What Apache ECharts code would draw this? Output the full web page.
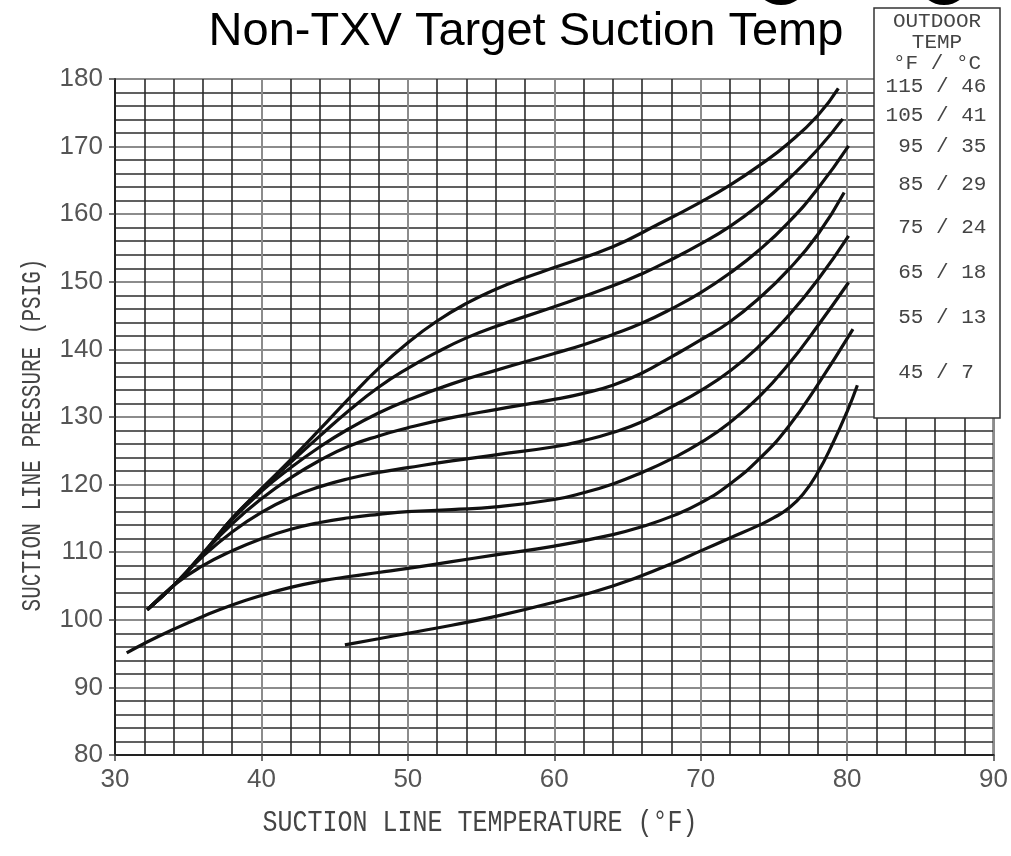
<!DOCTYPE html>
<html>
<head>
<meta charset="utf-8">
<title>Non-TXV Target Suction Temp</title>
<script src="https://cdn.jsdelivr.net/npm/echarts@6/dist/echarts.min.js"></script>
<style>
  html, body { margin: 0; padding: 0; background: #fff; }
  #chart { width: 1011px; height: 856px; }
</style>
</head>
<body>
<div id="chart"></div>
<script>
  // outdoor temp, °F / °C  (top curve first)
  const outdoorLabels = ['115 / 46', '105 / 41', ' 95 / 35', ' 85 / 29', ' 75 / 24', ' 65 / 18', ' 55 / 13', ' 45 / 7 '];

  // each curve: [suction line temp °F, suction line pressure psig]
  const c115 = [[32.2, 101.5], [34.2, 105.5], [36.2, 110.3], [38, 115], [40, 119.4], [42, 123.7], [44, 128.2], [46, 132.8], [48, 137.2], [50, 141], [52, 144.2], [54, 146.8], [56, 148.9], [58, 150.6], [60, 152.1], [64, 155.2], [67, 158.4], [70, 161.8], [72, 164.3], [74, 167.2], [76, 170.5], [78, 174.6], [79.4, 178.6]];
  const c105 = [[32.2, 101.5], [34.2, 105.5], [36.2, 110.3], [38, 115], [40, 119.3], [42, 123.3], [44, 127.2], [46, 131], [48, 134.4], [50, 137.2], [52, 139.6], [54, 141.7], [56, 143.4], [60, 146.3], [64, 149.4], [66, 151.2], [68, 153.3], [70, 155.6], [72, 158.2], [74, 161.4], [76, 165.2], [78, 169.6], [79.7, 174.1]];
  const c95 = [[32.2, 101.5], [34.2, 105.5], [36.2, 110.2], [38, 114.8], [40, 119], [42, 122.5], [44, 125.6], [46, 128.3], [48, 130.6], [50, 132.5], [53, 134.9], [56, 136.9], [60, 139.4], [62, 140.7], [64, 142.2], [66, 143.9], [68, 146], [70, 148.4], [72, 151.3], [74, 154.7], [76, 158.8], [78, 163.8], [80.1, 170.1]];
  const c85 = [[32.2, 101.5], [34.2, 105.5], [36, 109.8], [38, 114.2], [40, 117.9], [42, 121], [44, 123.6], [46, 125.7], [48, 127.2], [50, 128.4], [53, 129.9], [56, 131.1], [60, 132.6], [62, 133.5], [64, 134.7], [66, 136.5], [68, 138.9], [70, 141.4], [72, 144.1], [74, 147.6], [76, 151.8], [78, 157], [79.8, 163.2]];
  const c75 = [[32.2, 101.5], [34.2, 105.5], [36, 109.4], [38, 113], [40, 115.9], [42, 118.1], [44, 119.7], [46, 120.9], [48, 121.8], [50, 122.5], [53, 123.5], [56, 124.4], [60, 125.6], [62, 126.5], [64, 127.7], [66, 129.3], [68, 131.5], [70, 133.9], [72, 136.8], [74, 140.5], [76, 145], [78, 150.3], [80.1, 156.8]];
  const c65 = [[32.2, 101.5], [34.2, 105.4], [36, 108], [38, 110.2], [40, 112], [42, 113.4], [44, 114.4], [46, 115.1], [48, 115.6], [50, 116], [53, 116.3], [56, 116.7], [60, 117.8], [62, 118.8], [64, 120.1], [66, 121.8], [68, 123.8], [70, 126.2], [72, 129.2], [74, 133], [76, 137.8], [78, 143.5], [80.1, 149.9]];
  const c55 = [[30.8, 95.1], [32, 96.5], [34, 98.6], [36, 100.5], [38, 102.2], [40, 103.6], [42, 104.8], [44, 105.7], [46, 106.4], [48, 107], [50, 107.6], [53, 108.6], [56, 109.6], [60, 110.9], [64, 112.6], [66, 113.8], [68, 115.3], [70, 117.3], [72, 120.1], [74, 123.8], [76, 128.6], [78, 134.8], [80.4, 143]];
  const c45 = [[45.7, 96.3], [48, 97.2], [50, 98], [53, 99.2], [56, 100.5], [60, 102.6], [64, 105], [68, 108.3], [70, 110.2], [72, 112.1], [74, 114], [75, 115.1], [76, 116.5], [77, 118.6], [78, 121.8], [79, 126], [80, 130.8], [80.7, 134.7]];

  const curves = [c115, c105, c95, c85, c75, c65, c55, c45];

  // layout of the "OUTDOOR TEMP" box (pixel rows)
  const boxRowsY = [86, 115, 146, 184.5, 227.5, 272.5, 317.5, 372.5];

  const chart = echarts.init(document.getElementById('chart'));

  const series = curves.map(function (pts, i) {
    return {
      name: outdoorLabels[i],
      type: 'line',
      data: pts,
      smooth: 0.5,
      showSymbol: false,
      silent: true,
      z: 3,
      lineStyle: { color: '#111', width: 3.2 }
    };
  });

  const monoFont = '"Liberation Mono", "DejaVu Sans Mono", monospace';
  const boxText = { fontFamily: monoFont, fontSize: 21, fill: '#444', textAlign: 'center', textVerticalAlign: 'middle' };

  const graphics = [
    // cut-off letters of a bigger heading above
    { type: 'ellipse', shape: { cx: 781, cy: -14, rx: 24, ry: 19 }, style: { fill: '#000' } },
    { type: 'ellipse', shape: { cx: 944, cy: -14, rx: 23, ry: 19 }, style: { fill: '#000' } },
    {
      type: 'text', x: 526, y: 32,
      style: { text: 'Non-TXV Target Suction Temp', fontFamily: '"Liberation Sans", Arial, sans-serif', fontSize: 47, fill: '#000', textAlign: 'center', textVerticalAlign: 'middle' }
    },
    {
      type: 'text', x: 33, y: 435, rotation: Math.PI / 2, scaleY: 1.3,
      style: { text: 'SUCTION LINE PRESSURE (PSIG)', fontFamily: monoFont, fontSize: 21, fill: '#444', textAlign: 'center', textVerticalAlign: 'middle' }
    },
    {
      type: 'text', x: 480, y: 823, scaleY: 1.2,
      style: { text: 'SUCTION LINE TEMPERATURE (°F)', fontFamily: monoFont, fontSize: 25, fill: '#444', textAlign: 'center', textVerticalAlign: 'middle' }
    },
    // legend box
    { type: 'rect', z: 100, shape: { x: 874, y: 8, width: 126, height: 410 }, style: { fill: '#fff', stroke: '#333', lineWidth: 1.5 } },
    { type: 'text', z: 101, x: 937, y: 21.5, style: Object.assign({}, boxText, { text: 'OUTDOOR' }) },
    { type: 'text', z: 101, x: 937, y: 42.5, style: Object.assign({}, boxText, { text: 'TEMP' }) },
    { type: 'text', z: 101, x: 937, y: 63, style: Object.assign({}, boxText, { text: '°F / °C' }) }
  ];
  outdoorLabels.forEach(function (lab, i) {
    graphics.push({ type: 'text', z: 101, x: 936, y: boxRowsY[i], style: Object.assign({}, boxText, { text: lab }) });
  });

  const option = {
    backgroundColor: '#fff',
    animation: false,
    grid: { left: 115, right: 11, top: 79, bottom: 101, show: true, borderColor: '#222', borderWidth: 2 },
    xAxis: {
      type: 'value', min: 30, max: 90, interval: 10,
      axisLine: { show: true, lineStyle: { color: '#222', width: 2 } },
      axisTick: { show: true, length: 6, lineStyle: { color: '#444', width: 1.5 } },
      axisLabel: { margin: 12, fontSize: 26, color: '#555', fontFamily: '"Liberation Sans", Arial, sans-serif' },
      splitLine: { show: true, lineStyle: { color: '#8c8c8c', width: 2 } },
      minorTick: { show: false, splitNumber: 5 },
      minorSplitLine: { show: true, lineStyle: { color: '#2b2b2b', width: 1.6 } }
    },
    yAxis: {
      type: 'value', min: 80, max: 180, interval: 10,
      axisLine: { show: true, lineStyle: { color: '#222', width: 2 } },
      axisTick: { show: true, length: 6, lineStyle: { color: '#444', width: 1.5 } },
      axisLabel: { margin: 12, fontSize: 26, color: '#555', fontFamily: '"Liberation Sans", Arial, sans-serif' },
      splitLine: { show: true, lineStyle: { color: '#8c8c8c', width: 2 } },
      minorTick: { show: false, splitNumber: 5 },
      minorSplitLine: { show: true, lineStyle: { color: '#2b2b2b', width: 1.6 } }
    },
    series: series,
    graphic: graphics
  };

  chart.setOption(option);
</script>
</body>
</html>
